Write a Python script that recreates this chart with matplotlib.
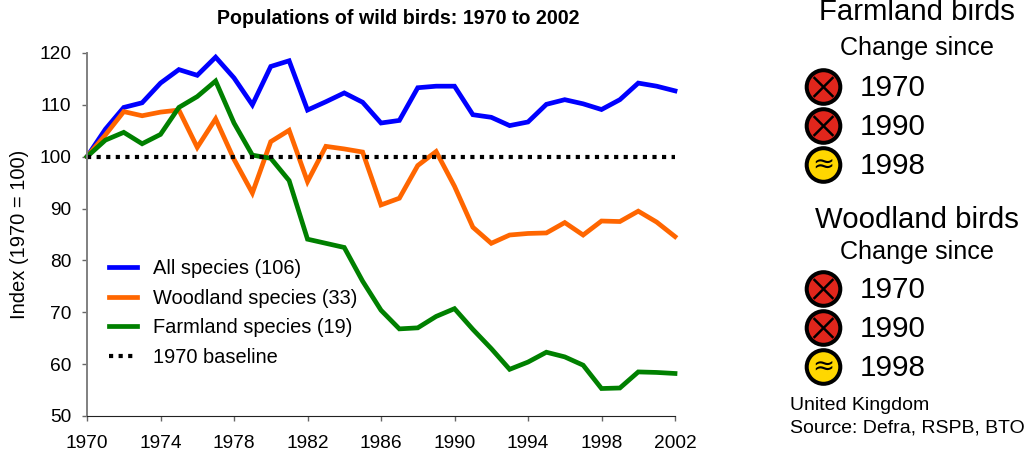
import matplotlib
matplotlib.use('Agg')
import matplotlib.pyplot as plt
from matplotlib.patches import Circle

plt.rcParams['font.family'] = ['Liberation Sans', 'DejaVu Sans']

years = list(range(1970, 2003))
all_species = [100, 105.3, 109.5, 110.4, 114.2, 116.8, 115.7, 119.2, 115.2, 110, 117.4, 118.5, 109, 110.6, 112.3, 110.5, 106.5,
               107, 113.3, 113.6, 113.6, 108.1, 107.6, 106, 106.7, 110.1, 111, 110.2, 109.1, 111, 114.2, 113.6, 112.7]
woodland = [100, 104.2, 108.7, 107.9, 108.6, 109, 101.8, 107.3, 99.5, 93, 102.9, 105.1, 95.2, 102, 101.5, 100.9, 90.7,
            92, 98.3, 101, 94.3, 86.4, 83.3, 84.9, 85.2, 85.3, 87.3, 84.9, 87.6, 87.5, 89.5, 87.4, 84.6]
farmland = [100, 103.2, 104.7, 102.5, 104.3, 109.5, 111.6, 114.6, 106.5, 100.3, 99.7, 95.4, 84.1, 83.3, 82.5, 76, 70.4,
            66.8, 67, 69.2, 70.7, 66.7, 63, 59, 60.4, 62.3, 61.4, 59.8, 55.3, 55.4, 58.5, 58.4, 58.2]
baseline = [100] * len(years)
x_ticks = list(range(1970, 2003, 4))
y_ticks = list(range(50, 121, 10))
change_years = ['1970', '1990', '1998']
farmland_status = ['down', 'down', 'same']
woodland_status = ['down', 'down', 'same']

W, H = 1028, 453
fig = plt.figure(figsize=(W / 100, H / 100), dpi=100)
ax = fig.add_axes([87 / W, 1 - 416 / H, (675 - 87) / W, (416 - 53) / H])

ax.plot(years, all_species, color='#0000FF', lw=3.4, label='All species (106)', solid_joinstyle='miter', clip_on=False)
ax.plot(years, woodland, color='#FF6600', lw=3.4, label='Woodland species (33)', solid_joinstyle='miter', clip_on=False)
ax.plot(years, farmland, color='#008000', lw=3.4, label='Farmland species (19)', solid_joinstyle='miter', clip_on=False)
ax.plot(years, baseline, color='black', lw=3, linestyle=(0, (1, 1.3)), label='1970 baseline')

ax.set_xlim(1970, 2002)
ax.set_ylim(50, 120)
ax.set_xticks(x_ticks)
ax.set_yticks(y_ticks)
ax.tick_params(labelsize=13.8, length=3.5, width=1, color='#666666')
ax.tick_params(axis='x', pad=10)
ax.tick_params(axis='y', pad=8)
ax.spines['top'].set_visible(False)
ax.spines['right'].set_visible(False)
ax.spines['left'].set_color('#808080')
ax.spines['left'].set_linewidth(1.4)
ax.spines['bottom'].set_color('#222222')
ax.set_ylabel('Index (1970 = 100)', fontsize=14.5, labelpad=7)
fig.text(398 / W, 1 - 18.5 / H, 'Populations of wild birds: 1970 to 2002', fontsize=14.1, fontweight='bold',
         ha='center', va='center')

ax.legend(loc='lower left', bbox_to_anchor=(0.006, 0.085), frameon=False, fontsize=14.4,
          handlelength=1.4, handletextpad=0.8, labelspacing=0.54)

# right hand panel drawn in pixel coordinates
ov = fig.add_axes([0, 0, 1, 1], zorder=5)
ov.set_xlim(0, W)
ov.set_ylim(H, 0)
ov.axis('off')


def icon(y, status):
    x = 823.5
    color = '#E1261C' if status == 'down' else '#FFD700'
    ov.add_patch(Circle((x, y), 16.8, facecolor=color, edgecolor='black', lw=2.9))
    if status == 'down':
        d = 9
        ov.plot([x - d, x + d], [y - d, y + d], color='black', lw=1.8)
        ov.plot([x - d, x + d], [y + d, y - d], color='black', lw=1.8)
    else:
        ov.text(x, y, '≈', fontsize=19, ha='center', va='center', family='DejaVu Sans')


def panel(title, title_x, title_y, sub_y, rows_y, status):
    ov.text(title_x, title_y, title, fontsize=21.2, ha='center', va='baseline')
    ov.text(917, sub_y, 'Change since', fontsize=18.1, ha='center', va='center')
    for y, yr, s in zip(rows_y, change_years, status):
        icon(y, s)
        ov.text(860, y + 1, yr, fontsize=21.3, ha='left', va='center')


panel('Farmland birds', 917, 20.5, 48.5, [87, 126, 165], farmland_status)
panel('Woodland birds', 917, 228, 252.5, [289, 328, 367], woodland_status)
ov.text(790, 405, 'United Kingdom', fontsize=14, ha='left', va='center')
ov.text(790, 428, 'Source: Defra, RSPB, BTO', fontsize=14, ha='left', va='center')

fig.savefig('out.png', dpi=100)
